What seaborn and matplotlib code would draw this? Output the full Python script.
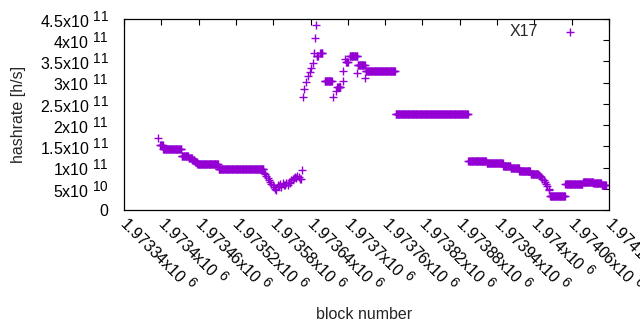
import numpy as np
import pandas as pd
import matplotlib
matplotlib.use("Agg")
import matplotlib.pyplot as plt
import matplotlib._mathtext as mathtext_internal
import seaborn as sns

# Plateaus: first block, last block, hashrate (1e9 h/s)
seg_start = [1973398, 1973403, 1973433, 1973444, 1973450, 1973454, 1973458, 1973492,
             1973650, 1973656, 1973663, 1973683, 1973697, 1973703, 1973716, 1973729,
             1973777, 1973894, 1973923, 1973950, 1973962, 1973976, 1973994, 1974025,
             1974050, 1974078, 1974095, 1974108]
seg_end = [1973402, 1973432, 1973443, 1973449, 1973453, 1973457, 1973491, 1973564,
           1973652, 1973659, 1973674, 1973688, 1973700, 1973715, 1973727, 1973776,
           1973893, 1973922, 1973949, 1973961, 1973975, 1973993, 1974006, 1974049,
           1974077, 1974094, 1974107, 1974115]
seg_value = [152, 144, 127, 122, 117, 113, 108, 97,
             362, 370, 304, 290, 348, 363, 342, 327,
             226, 116, 111, 104, 99, 92, 85, 34,
             61, 66, 64, 59]

# Single blocks outside the plateaus (1e9 h/s)
single_block = [1973395,
                1973565, 1973567, 1973569, 1973571, 1973573, 1973575, 1973577, 1973579,
                1973581, 1973583, 1973585, 1973587, 1973589, 1973591, 1973593, 1973595,
                1973597, 1973599, 1973601, 1973603, 1973605, 1973607, 1973609, 1973611,
                1973613, 1973615, 1973617, 1973619, 1973621, 1973623, 1973625, 1973626,
                1973628, 1973630, 1973633, 1973636, 1973639, 1973641, 1973644, 1973645,
                1973647, 1973649, 1973676, 1973681, 1973692, 1973693, 1973695, 1973714,
                1973728,
                1974007, 1974009, 1974011, 1974013, 1974015, 1974017, 1974019, 1974021,
                1974023, 1974024]
single_value = [170,
                88, 84, 80, 76, 71, 66, 62, 58,
                55, 50, 47, 60, 57, 62, 55, 64,
                60, 58, 63, 60, 66, 64, 70, 72,
                76, 78, 76, 80, 77, 74, 73, 94,
                266, 285, 301, 316, 325, 335, 346, 370,
                405, 436, 266, 280, 305, 327, 355, 322,
                311,
                82, 80, 77, 73, 70, 66, 61, 56,
                50, 46]

x_ticks = [1973340 + 60 * i for i in range(14)]
x_tick_labels = ["1.97334", "1.9734", "1.97346", "1.97352", "1.97358", "1.97364", "1.9737",
                 "1.97376", "1.97382", "1.97388", "1.97394", "1.974", "1.97406", "1.97412"]
y_ticks = [0, 0.5e11, 1e11, 1.5e11, 2e11, 2.5e11, 3e11, 3.5e11, 4e11, 4.5e11]
y_tick_labels = ["0", "5x10 $^{10}$", "1x10 $^{11}$", "1.5x10 $^{11}$", "2x10 $^{11}$",
                 "2.5x10 $^{11}$", "3x10 $^{11}$", "3.5x10 $^{11}$", "4x10 $^{11}$",
                 "4.5x10 $^{11}$"]

# build one row per block
blocks = []
values = []
for s, e, v in zip(seg_start, seg_end, seg_value):
    for b in range(s, e + 1):
        blocks.append(b)
        values.append(v * 1e9)
blocks += single_block
values += [v * 1e9 for v in single_value]
df = pd.DataFrame({"block": blocks, "hashrate": values}).sort_values("block")

sns.set_style("white")
plt.rcParams["font.family"] = ["Liberation Sans", "DejaVu Sans"]
plt.rcParams["mathtext.fontset"] = "custom"
plt.rcParams["mathtext.rm"] = "Liberation Sans"
plt.rcParams["mathtext.it"] = "Liberation Sans"
# gnuplot superscripts are only a little smaller than the text
mathtext_internal.SHRINK_FACTOR = 0.85

fs = 11.5

fig = plt.figure(figsize=(6.4, 3.3), dpi=100)
ax = fig.add_axes([124 / 640, 1 - 210 / 330, (609 - 124) / 640, (210 - 19) / 330])

sns.scatterplot(data=df, x="block", y="hashrate", marker="+", color="#9400d3",
                s=28, linewidth=1.0, label="X17", ax=ax)

ax.set_xlim(1973340, 1974120)
ax.set_ylim(0, 4.5e11)
ax.set_xticks(x_ticks)
ax.set_xticklabels([l + "x10 $^{6}$" for l in x_tick_labels], rotation=-45,
                   ha="left", va="center", rotation_mode="anchor", fontsize=fs)
ax.set_yticks(y_ticks)
ax.set_yticklabels(y_tick_labels, fontsize=fs)
ax.tick_params(direction="in", length=4, width=0.8, top=True, right=True,
               color="black", labelcolor="black")
ax.tick_params(axis="y", pad=11)
ax.tick_params(axis="x", pad=7)
for sp in ax.spines.values():
    sp.set_visible(True)
    sp.set_color("black")
    sp.set_linewidth(0.9)

ax.set_xlabel("block number", fontsize=fs)
ax.set_ylabel("hashrate [h/s]", fontsize=fs)
ax.xaxis.set_label_coords((364 - 124) / 485, -0.51)
ax.yaxis.set_label_coords(-(124 - 26) / 485, 0.5)

leg = ax.legend(loc="upper right", bbox_to_anchor=(0.966, 1.005), frameon=False,
                markerfirst=False, fontsize=fs, handletextpad=1.0, borderaxespad=0)

fig.savefig("out.png", dpi=100)
